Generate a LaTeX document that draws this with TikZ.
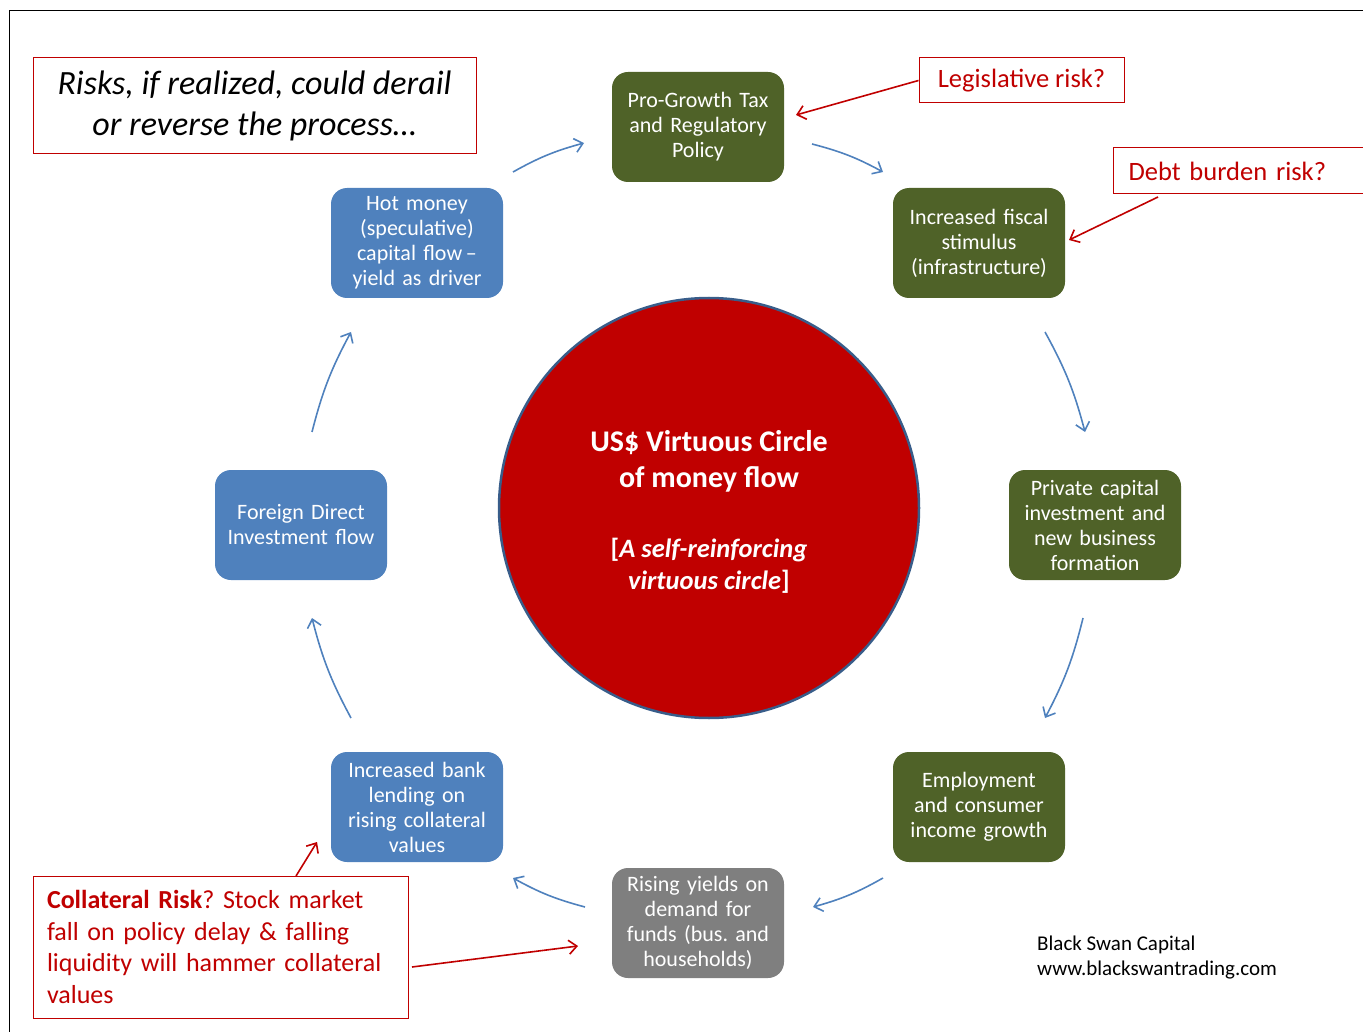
\documentclass[tikz,border=0pt]{standalone}
\usepackage{fontspec}
\setmainfont{Carlito}
\frenchspacing
\usetikzlibrary{arrows.meta}
\definecolor{dgreen}{HTML}{4F6228}
\definecolor{mblue}{HTML}{4F81BD}
\definecolor{mgray}{HTML}{7F7F7F}
\definecolor{dred}{HTML}{C00000}
\definecolor{cborder}{HTML}{385D8A}
\begin{document}
\begin{tikzpicture}[x=1pt,y=-1pt,
  stage/.style={rounded corners=16pt, minimum width=172pt, minimum height=110pt, inner sep=0pt,
    text width=170pt, align=center, text=white, font=\fontsize{22}{25}\selectfont},
  gstage/.style={stage, fill=dgreen},
  bstage/.style={stage, fill=mblue},
  ystage/.style={stage, fill=mgray},
  riskbox/.style={draw=dred, line width=1pt, fill=white, inner sep=0pt, text=dred},
  flow/.style={draw=mblue, line width=1.6pt, -{Straight Barb[length=8pt,width=14pt,line width=1.6pt]}},
  riskarr/.style={draw=dred, line width=1.6pt, -{Straight Barb[length=8pt,width=14pt,line width=1.6pt]}}
]
\useasboundingbox (0,0) rectangle (1363,1032);
% frame
\draw[line width=1pt] (9,1032) -- (9,11) -- (1363,11);

% circle
\node (circ) [circle, fill=dred, draw=cborder, line width=2.5pt, minimum size=420pt, inner sep=0pt] at (709,508) {};
\node (ct1) [text=white, align=center, font=\bfseries\fontsize{30}{36}\selectfont] at (709,461) {US\$ Virtuous Circle\\of money flow};
\node (ct2) [text=white, align=center, font=\bfseries\fontsize{26.5}{32}\selectfont] at (709,566) {[\textit{A self-reinforcing}\\\textit{virtuous circle}]};

% stages
\node (pro) [gstage] at (698,127) {Pro-Growth Tax\\and Regulatory\\Policy};
\node (fis) [gstage] at (979,243) {Increased fiscal\\stimulus\\(infrastructure)};
\node (priv) [gstage] at (1095,525) {Private capital\\investment and\\new business\\formation};
\node (emp) [gstage] at (979,807) {Employment\\and consumer\\income growth};
\node (yld) [ystage] at (698,923) {Rising yields on\\demand for\\funds (bus. and\\households)};
\node (bank) [bstage] at (417,807) {Increased bank\\lending on\\rising collateral\\values};
\node (fdi) [bstage] at (301,525) {Foreign Direct\\Investment flow};
\node (hot) [bstage] at (417,243) {Hot money\\(speculative)\\capital flow\,--\\yield as driver};

% flow arrow endpoints
\coordinate (a1s) at (513,172); \coordinate (a1e) at (584,143);
\coordinate (a2s) at (812,144); \coordinate (a2e) at (883,172);
\coordinate (a3s) at (1045,332); \coordinate (a3e) at (1085,432);
\coordinate (a4s) at (1083,618); \coordinate (a4e) at (1045,718);
\coordinate (a5s) at (883,878); \coordinate (a5e) at (813,907);
\coordinate (a6s) at (585,907); \coordinate (a6e) at (513,878);
\coordinate (a7s) at (351,718); \coordinate (a7e) at (312,618);
\coordinate (a8s) at (312,432); \coordinate (a8e) at (351,332);
\foreach \i in {1,...,8} { \draw[flow] (a\i s) to[bend left=7] (a\i e); }

% risk boxes
\node (risks) [riskbox, text=black, minimum width=443pt, minimum height=96pt, align=center,
  font=\itshape\fontsize{34}{41}\selectfont] at (254.5,106) {Risks, if realized, could derail\\or reverse the process\dots};
\node (leg) [riskbox, minimum width=205pt, minimum height=45pt, font=\fontsize{26.5}{29}\selectfont] at (1021.5,80.5) {Legislative risk?};
\node (debt) [riskbox, minimum height=46pt, inner xsep=15pt, text width=222pt, align=left, font=\fontsize{26.5}{29}\selectfont, anchor=west] at (1113,171) {Debt burden risk?};
\node (coll) [riskbox, minimum width=375pt, minimum height=142pt, inner xsep=14pt, font=\fontsize{26}{31.7}\selectfont,
  text width=347pt, align=left] at (220.5,947) {\textbf{Collateral Risk}? Stock market\\fall on policy delay \& falling\\liquidity will hammer collateral\\values};

% risk arrows
\coordinate (r1e) at (796,115);
\coordinate (r2s) at (1158,197); \coordinate (r2e) at (1069,240);
\coordinate (r3s) at (296,876); \coordinate (r3e) at (317,842);
\coordinate (r4s) at (412,967); \coordinate (r4e) at (578,946);
\draw[riskarr] (leg.west) -- (r1e);
\draw[riskarr] (r2s) -- (r2e);
\draw[riskarr] (r3s) -- (r3e);
\draw[riskarr] (r4s) -- (r4e);

% credit
\node (credit) [anchor=north west, align=left, inner sep=0pt, font=\fontsize{21}{25}\selectfont] at (1037,936) {Black Swan Capital\\www.blackswantrading.com};
\end{tikzpicture}
\end{document}
